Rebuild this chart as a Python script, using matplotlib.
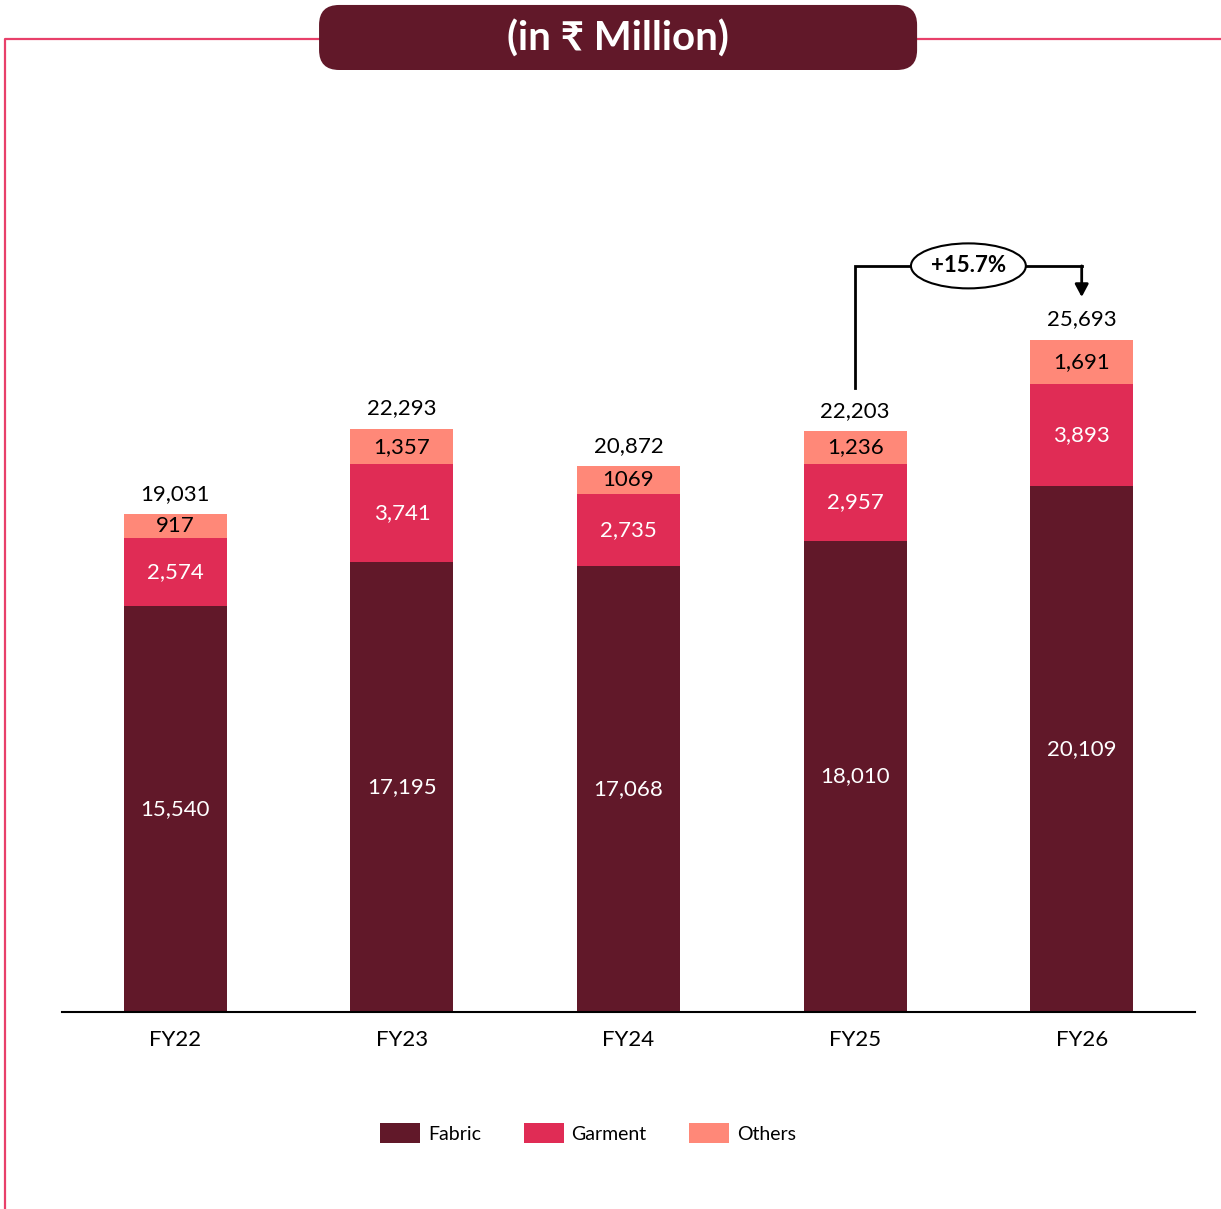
import matplotlib
matplotlib.use('Agg')
import matplotlib.pyplot as plt
from matplotlib.patches import FancyBboxPatch, Ellipse, Patch
from matplotlib.lines import Line2D
import numpy as np

plt.rcParams['font.family'] = ['Lato', 'DejaVu Sans']

years   = ['FY22', 'FY23', 'FY24', 'FY25', 'FY26']
fabric  = [15540, 17195, 17068, 18010, 20109]
garment = [2574, 3741, 2735, 2957, 3893]
others  = [917, 1357, 1069, 1236, 1691]
others_labels = ['917', '1,357', '1069', '1,236', '1,691']
growth  = '+15.7%'

c_fabric  = '#611829'
c_garment = '#E02C55'
c_others  = '#FF8878'
c_border  = '#E8406A'

fabric = np.array(fabric)
garment = np.array(garment)
others = np.array(others)
totals = fabric + garment + others
x = np.arange(len(years))

fig = plt.figure(figsize=(12.21, 12.09), dpi=100)
ax = fig.add_axes([0.0508, 0.1629, 0.9279, 0.7543])

w = 0.455
ax.bar(x, fabric, w, color=c_fabric)
ax.bar(x, garment, w, bottom=fabric, color=c_garment)
ax.bar(x, others, w, bottom=fabric + garment, color=c_others)

fs = 16
for i in range(len(x)):
    ax.text(x[i], fabric[i] / 2, f'{fabric[i]:,}', ha='center', va='center',
            color='white', fontsize=fs)
    ax.text(x[i], fabric[i] + garment[i] / 2, f'{garment[i]:,}', ha='center',
            va='center', color='white', fontsize=fs)
    ax.text(x[i], fabric[i] + garment[i] + others[i] / 2, others_labels[i],
            ha='center', va='center', color='black', fontsize=fs)
    ax.text(x[i], totals[i] + 780, f'{totals[i]:,}', ha='center', va='center',
            color='black', fontsize=fs)

# growth bracket FY25 -> FY26
y_start = totals[3] + 1650
y_top = totals[4] + 2830
y_tip = totals[4] + 1640
ax.plot([x[3], x[3], x[4]], [y_start, y_top, y_top],
        color='black', lw=2, solid_joinstyle='miter', solid_capstyle='projecting')
ax.annotate('', xy=(x[4], y_tip), xytext=(x[4], y_top),
            arrowprops=dict(arrowstyle='-|>,head_length=0.75,head_width=0.4',
                            color='black', lw=2, shrinkA=0, shrinkB=0))
ax.add_patch(Ellipse(((x[3] + x[4]) / 2, y_top), 0.507, 1720,
                     facecolor='white', edgecolor='black', lw=1.5, zorder=3))
ax.text((x[3] + x[4]) / 2, y_top, growth, ha='center', va='center',
        fontsize=16, fontweight='bold', zorder=4)

ax.set_xlim(-0.5, 4.5)
ax.set_ylim(0, 34860)
ax.set_xticks(x)
ax.set_xticklabels(years, fontsize=16)
ax.tick_params(axis='x', length=0, pad=13)
ax.set_yticks([])
for s in ['left', 'right', 'top']:
    ax.spines[s].set_visible(False)
ax.spines['bottom'].set_linewidth(1.5)

handles = [Patch(facecolor=c_fabric, label='Fabric'),
           Patch(facecolor=c_garment, label='Garment'),
           Patch(facecolor=c_others, label='Others')]
fig.legend(handles=handles, loc='center', bbox_to_anchor=(0.4816, 0.0629),
           ncol=3, frameon=False, fontsize=14, handlelength=2.05,
           handleheight=1.2, handletextpad=0.4, columnspacing=2.2)

# page frame
fig.add_artist(Line2D([5 / 1221, 5 / 1221, 1.0], [0.0, 1 - 39 / 1209, 1 - 39 / 1209],
                      transform=fig.transFigure, color=c_border, lw=1.6, zorder=1))

# header box
header = FancyBboxPatch((0.2613 + 0.0165, 0.9421 + 0.0165),
                        0.4898 - 0.033, 0.0538 - 0.033,
                        boxstyle='round,pad=0.0165',
                        transform=fig.transFigure,
                        facecolor=c_fabric, edgecolor='none', zorder=5)
fig.add_artist(header)
fig.text(0.5061, 1 - 39 / 1209, '(in \u20b9 Million)', ha='center', va='center',
         color='white', fontsize=29, fontweight='bold', zorder=6)

fig.savefig('out.png', dpi=100)
